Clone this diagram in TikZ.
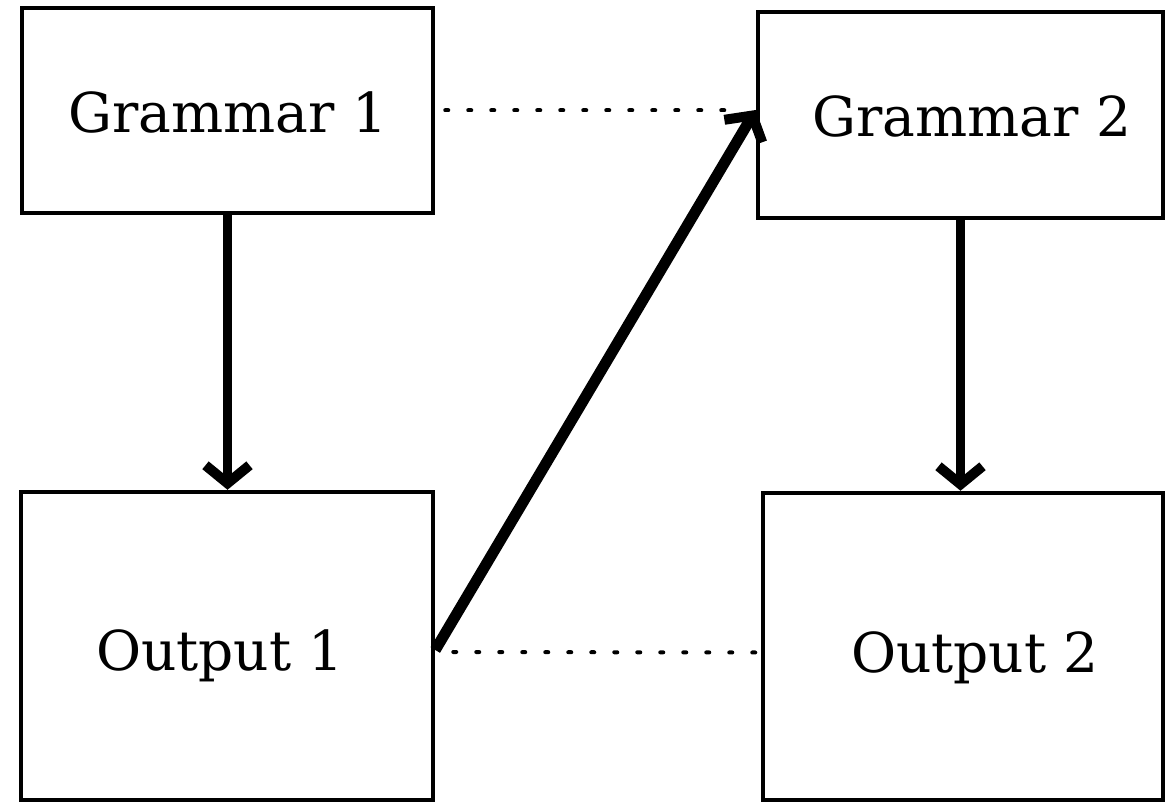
\documentclass[tikz,border=0pt]{standalone}
\usepackage{fontspec}
\setmainfont{DejaVu Serif}
\usetikzlibrary{arrows.meta}
\begin{document}
\begin{tikzpicture}[x=1pt,y=-1pt,
  box/.style={draw, line width=4.5pt, inner sep=0pt},
  lbl/.style={font=\fontsize{55}{60}\selectfont, anchor=base, inner sep=0pt},
  flow/.style={line width=9pt, -{Straight Barb[length=18pt,width=44pt,line width=10pt]}},
  link/.style={line width=4pt, line cap=round, dash pattern=on 3pt off 20pt}]
\useasboundingbox (0,0) rectangle (1166,805);
% boxes
\node[box, minimum width=411pt, minimum height=205pt] (g1) at (227.5,110.5) {};
\node[box, minimum width=405pt, minimum height=206pt] (g2) at (960.5,115) {};
\node[box, minimum width=412pt, minimum height=308pt] (o1) at (227,646) {};
\node[box, minimum width=400pt, minimum height=307pt] (o2) at (963,646.5) {};
% labels
\node[lbl] (t1) at (228,133) {Grammar 1};
\node[lbl] (t2) at (972,137) {Grammar 2};
\node[lbl] (t3) at (220,670) {Output 1};
\node[lbl] (t4) at (975,672) {Output 2};
% connectors
\draw[flow] (g1.south) -- (g1.south |- o1.north);
\draw[flow] (g2.south) -- (g2.south |- o2.north);
\draw[flow, line width=11pt] ([yshift=-4pt]o1.east) -- ([yshift=5pt]g2.west);
\draw[link] ([xshift=10pt]g1.east) -- ([xshift=-14pt]g2.west |- g1.east);
\draw[link] ([xshift=18pt,yshift=-6pt]o1.east) -- ([yshift=-6pt]o2.west);
\end{tikzpicture}
\end{document}
